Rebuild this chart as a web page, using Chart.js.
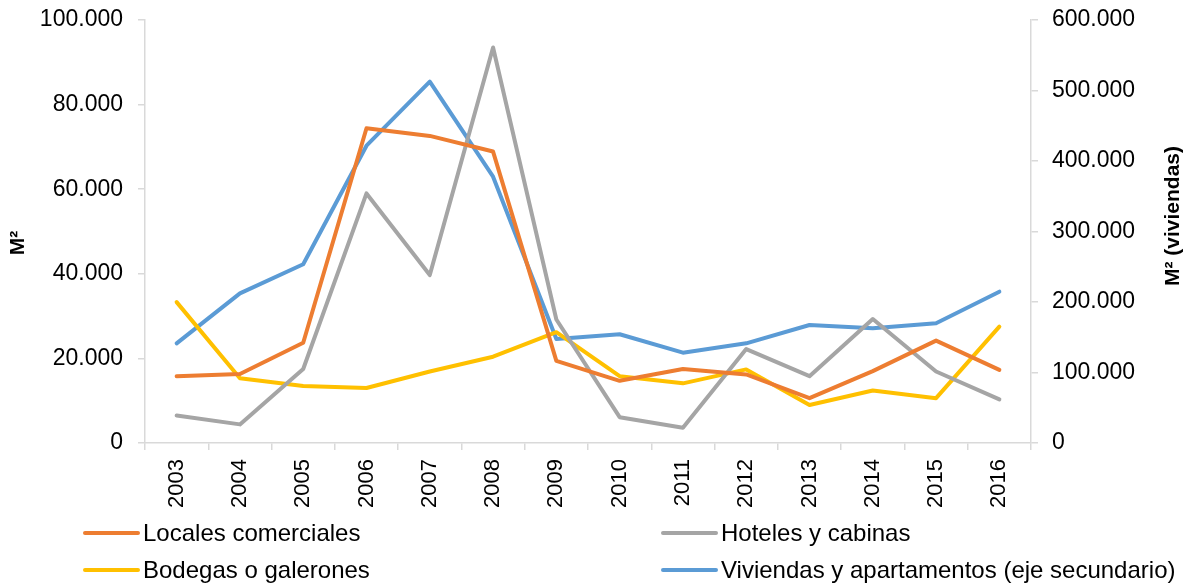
<!DOCTYPE html>
<html>
<head>
<meta charset="utf-8">
<script src="https://cdn.jsdelivr.net/npm/chart.js@4"></script>
<style>
  html, body { margin: 0; padding: 0; background: #fff; }
  #wrap { width: 1192px; height: 586px; position: relative; }
</style>
</head>
<body>
<div id="wrap"><canvas id="chart" width="1192" height="586"></canvas></div>
<script>
const years = ['2003', '2004', '2005', '2006', '2007', '2008', '2009', '2010', '2011', '2012', '2013', '2014', '2015', '2016'];

// left axis (M²)
const locales = [15800, 16300, 23700, 74400, 72600, 68900, 19400, 14700, 17500, 16200, 10600, 17000, 24200, 17300];
const hoteles = [6500, 4400, 17500, 59000, 39700, 93500, 29200, 6100, 3600, 22200, 15800, 29300, 16900, 10300];
const bodegas = [33300, 15300, 13500, 13000, 16900, 20400, 26200, 15800, 14100, 17400, 9000, 12400, 10600, 27500];
// right axis (M² viviendas)
const viviendas = [141400, 212300, 253500, 421700, 512500, 377700, 147500, 154200, 128100, 141400, 167400, 162700, 169800, 214600];

const leftTitle = 'M²';
const rightTitle = 'M² (viviendas)';

const FONT = 'Liberation Sans, Arial, sans-serif';
const AXIS_GREY = '#d9d9d9';

function fmt(v) {
  return String(Math.round(v)).replace(/\B(?=(\d{3})+(?!\d))/g, '.');
}

// axis titles (both read bottom to top) + legend in two columns
const extrasPlugin = {
  id: 'extras',
  afterDraw(chart) {
    const ctx = chart.ctx;
    ctx.save();
    ctx.fillStyle = '#000';
    ctx.font = 'bold 21px ' + FONT;
    ctx.textAlign = 'center';
    ctx.textBaseline = 'middle';
    [[18, 243, leftTitle], [1173, 216, rightTitle]].forEach(([x, y, t]) => {
      ctx.save();
      ctx.translate(x, y);
      ctx.rotate(-Math.PI / 2);
      ctx.fillText(t, 0, 0);
      ctx.restore();
    });

    const cols = [85, 663];
    const rows = [533, 570];
    ctx.font = '24px ' + FONT;
    ctx.textAlign = 'left';
    chart.data.datasets.forEach((ds, i) => {
      const x = cols[i % 2];
      const y = rows[Math.floor(i / 2)];
      ctx.strokeStyle = ds.borderColor;
      ctx.lineWidth = 4;
      ctx.lineCap = 'round';
      ctx.beginPath();
      ctx.moveTo(x, y);
      ctx.lineTo(x + 53, y);
      ctx.stroke();
      ctx.fillText(ds.label, x + 58, y + 1);
    });
    ctx.restore();
  }
};

function noVPad(s) {
  s.paddingTop = 0;
  s.paddingBottom = 0;
}

new Chart(document.getElementById('chart'), {
  type: 'line',
  data: {
    labels: years,
    datasets: [
      { label: 'Locales comerciales', data: locales, borderColor: '#ED7D31', yAxisID: 'y' },
      { label: 'Hoteles y cabinas', data: hoteles, borderColor: '#A5A5A5', yAxisID: 'y' },
      { label: 'Bodegas o galerones', data: bodegas, borderColor: '#FFC000', yAxisID: 'y' },
      { label: 'Viviendas y apartamentos (eje secundario)', data: viviendas, borderColor: '#5B9BD5', yAxisID: 'y2' }
    ].map(d => Object.assign(d, { borderWidth: 4, pointRadius: 0, tension: 0, fill: false, borderJoinStyle: 'round', borderCapStyle: 'round' }))
  },
  options: {
    responsive: false,
    animation: false,
    layout: { padding: { top: 20, left: 0, right: 0, bottom: 0 } },
    plugins: { legend: { display: false }, tooltip: { enabled: false } },
    scales: {
      x: {
        offset: true,
        grid: { offset: true, drawOnChartArea: false, drawTicks: true, tickLength: 7, color: AXIS_GREY, lineWidth: 1.5 },
        border: { color: AXIS_GREY, width: 1.5 },
        ticks: { minRotation: 90, maxRotation: 90, padding: 9, color: '#000', font: { family: FONT, size: 22 } },
        afterFit(s) { s.height = 143; }
      },
      y: {
        position: 'left',
        min: 0, max: 100000,
        ticks: { stepSize: 20000, padding: 15, color: '#000', font: { family: FONT, size: 23 }, callback: v => fmt(v) },
        grid: { drawOnChartArea: false, drawTicks: true, tickLength: 7, color: AXIS_GREY, lineWidth: 1.5 },
        border: { color: AXIS_GREY, width: 1.5 },
        afterFit(s) { s.width = 145; noVPad(s); }
      },
      y2: {
        position: 'right',
        min: 0, max: 600000,
        ticks: { stepSize: 100000, padding: 14, color: '#000', font: { family: FONT, size: 23 }, callback: v => fmt(v) },
        grid: { drawOnChartArea: false, drawTicks: true, tickLength: 7, color: AXIS_GREY, lineWidth: 1.5 },
        border: { color: AXIS_GREY, width: 1.5 },
        afterFit(s) { s.width = 161; noVPad(s); }
      }
    }
  },
  plugins: [extrasPlugin]
});
</script>
</body>
</html>
